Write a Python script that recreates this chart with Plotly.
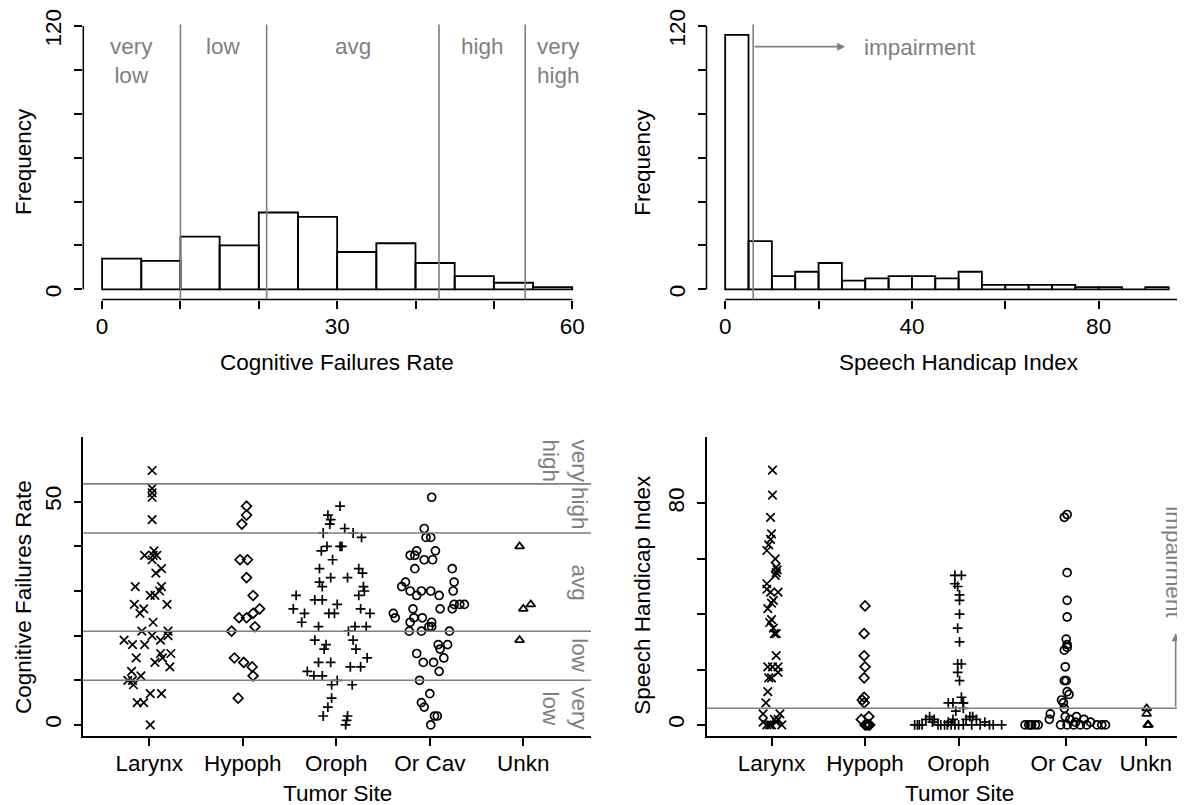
import plotly.graph_objects as go

# ---------------- data ----------------
CFR_BIN_EDGES = [0, 5, 10, 15, 20, 25, 30, 35, 40, 45, 50, 55, 60]
CFR_COUNTS = [14, 13, 24, 20, 35, 33, 17, 21, 12, 6, 3, 1]

SHI_BIN_EDGES = [0, 5, 10, 15, 20, 25, 30, 35, 40, 45, 50, 55, 60, 65, 70, 75, 80, 85, 90, 95]
SHI_COUNTS = [116, 22, 6, 8, 12, 4, 5, 6, 6, 5, 8, 2, 2, 2, 2, 1, 1, 0, 1]

CFR_CUTS = [10, 21, 43, 54]
CFR_BAND_LABELS = ["very<br>low", "low", "avg", "high", "very<br>high"]
SHI_CUT = 6
SHI_LABEL = "impairment"

SITES = ["Larynx", "Hypoph", "Oroph", "Or Cav", "Unkn"]
CFR_SITE_POS = [1, 2, 3, 4, 5]
SHI_SITE_POS = [1, 2, 3, 4.15, 5]

# Cognitive failures rate by tumour site (value, horizontal jitter)
CFR_LARYNX = [57, 53, 52, 51, 46, 39, 38, 38, 38, 37, 35, 34, 31, 31, 30, 29, 29, 27, 27, 26,
              25, 23, 21, 21, 19, 20, 19, 18, 18, 20, 16, 16, 15, 14, 15, 13, 12, 11, 10, 9,
              10, 7, 7, 5, 5, 0]
CFR_LARYNX_JIT = [0.03, 0.03, 0.03, 0.03, 0.03, 0.05, -0.05, 0.04, 0.08, 0.03, 0.13, 0.07, -0.15,
                  0.13, 0.11, 0.01, 0.06, -0.16, 0.19, -0.06, -0.10, 0.04, -0.08, 0.20, -0.27,
                  0.03, 0.12, -0.18, -0.05, 0.20, 0.12, 0.23, -0.14, 0.06, 0.14, 0.22, -0.19,
                  -0.09, -0.23, -0.17, -0.18, 0.01, 0.13, -0.13, -0.06, 0.01]
CFR_HYPOPH = [49, 47, 45, 37, 37, 33, 29, 26, 25, 24, 24, 22, 21, 15, 14, 13, 11, 6]
CFR_HYPOPH_JIT = [0.04, 0.04, -0.01, -0.03, 0.05, 0.04, 0.11, 0.18, 0.11, -0.04, 0.04, 0.13,
                  -0.12, -0.09, 0.01, 0.10, 0.11, -0.05]
CFR_OROPH = [49, 47, 46, 45, 44, 43, 43, 42, 40, 39, 40, 40, 37, 35, 35, 34, 33, 33, 32, 31,
             31, 29, 28, 28, 27, 29, 30, 26, 25, 25, 25, 26, 25, 23, 22, 21, 22, 22, 19, 18,
             17, 19, 17, 14, 14, 13, 13, 15, 12, 11, 11, 10, 9, 9, 6, 4, 2, 2, 1, 0]
CFR_OROPH_JIT = [0.04, -0.09, -0.06, -0.07, 0.09, -0.14, 0.18, 0.27, -0.10, -0.16, 0.06, 0.04,
                 -0.04, -0.18, 0.24, 0.28, -0.06, 0.12, -0.18, -0.15, 0.29, -0.43, -0.23, -0.15,
                 0.01, 0.24, 0.30, -0.46, -0.34, -0.08, -0.02, 0.26, 0.36, -0.37, -0.19, 0.13,
                 0.20, 0.32, -0.23, -0.11, -0.13, 0.18, 0.21, -0.19, -0.06, 0.15, 0.26, 0.33,
                 -0.31, -0.24, -0.15, 0.01, -0.05, 0.17, -0.05, -0.09, -0.14, 0.12, 0.11, 0.10]
CFR_ORCAV = [51, 44, 42, 42, 39, 39, 38, 38, 37, 37, 35, 35, 32, 32, 31, 30, 30, 30, 30, 29,
             29, 27, 27, 27, 26, 26, 26, 25, 24, 24, 24, 23, 23, 22, 22, 21, 21, 21, 18, 18,
             17, 16, 15, 14, 14, 12, 10, 7, 5, 4, 2, 2, 0]
CFR_ORCAV_JIT = [0.02, -0.06, -0.04, 0.01, -0.14, 0.06, -0.21, -0.16, -0.06, 0.03, -0.16, 0.24,
                 -0.26, 0.26, -0.30, -0.21, -0.09, 0.01, 0.25, 0.10, -0.14, 0.26, 0.32, 0.37,
                 0.24, -0.18, 0.11, -0.39, -0.37, -0.17, -0.08, -0.21, 0.02, -0.01, 0.02, -0.22,
                 -0.09, 0.21, 0.09, 0.19, 0.11, -0.14, 0.15, -0.07, 0.04, 0.10, -0.11, 0.00,
                 -0.09, -0.06, 0.05, 0.08, 0.01]
CFR_UNKN = [40, 27, 26, 19]
CFR_UNKN_JIT = [-0.04, 0.08, 0.00, -0.04]

# Speech handicap index by tumour site (value, horizontal spread)
SHI_LARYNX = [92, 83, 75, 69, 67, 65, 63, 60, 57, 56, 55, 54, 51, 49, 48, 48, 45, 44, 42, 38,
              37, 35, 33, 33, 25, 21, 21, 21, 19, 17, 17, 12, 8, 4, 4, 2, 1, 0, 0, 0, 1, 2, 0]
SHI_LARYNX_JIT = [0.01, 0.01, -0.01, 0.00, -0.01, -0.03, -0.05, 0.04, 0.05, 0.06, 0.05, 0.04,
                  -0.05, -0.05, -0.01, 0.07, 0.02, 0.00, -0.04, 0.00, -0.02, 0.02, 0.03, 0.05,
                  0.05, -0.04, 0.01, 0.07, 0.07, -0.03, 0.00, -0.04, -0.06, -0.09, 0.09, 0.07,
                  -0.09, -0.05, 0.00, 0.11, 0.05, 0.03, -0.02]
SHI_HYPOPH = [43, 33, 25, 21, 17, 10, 9, 8, 2, 3, 0, 0, 0, 0]
SHI_HYPOPH_JIT = [0.00, -0.01, -0.01, 0.00, -0.01, -0.01, -0.03, -0.01, -0.04, 0.04, 0.02, 0.04,
                  0.00, 0.05]
SHI_OROPH = [54, 54, 51, 50, 47, 45, 40, 35, 30, 22, 22, 19, 16, 8, 8, 8, 10, 8, 5, 6,
             0, 0, 2, 3, 1, 0, 2, 0, 0, 1, 0, 0, 2, 0, 2, 3, 3, 2, 0, 1, 0, 0, 0, 0, 0,
             0, 0, 0]
SHI_OROPH_JIT = [-0.04, 0.03, -0.04, -0.01, 0.01, 0.01, 0.01, -0.01, 0.01, -0.01, 0.03, -0.01,
                 0.01, -0.11, -0.06, 0.05, 0.03, 0.05, -0.03, 0.05,
                 -0.47, -0.42, -0.35, -0.31, -0.28, -0.22, -0.26, -0.19, -0.15, -0.11, -0.08,
                 -0.04, -0.06, 0.05, 0.08, 0.12, 0.15, 0.19, 0.23, 0.28, 0.33, 0.37, 0.46,
                 -0.44, -0.39, -0.12, 0.00, 0.14]
SHI_ORCAV = [75, 76, 55, 45, 39, 31, 29, 27, 28, 21, 16, 16, 12, 11, 9, 8, 6, 4, 2, 3,
             0, 0, 0, 0, 0, 0, 0, 0, 2, 0, 3, 0, 2, 0, 1, 0, 0, 0, 1]
SHI_ORCAV_JIT = [-0.02, 0.01, 0.01, 0.01, 0.01, 0.00, 0.01, -0.02, 0.01, -0.01, -0.02, 0.00,
                 0.01, 0.03, -0.05, -0.03, -0.02, -0.17, -0.18, -0.01,
                 -0.44, -0.40, -0.37, -0.33, -0.30, -0.38, -0.06, 0.01, 0.04, 0.08, 0.11, 0.15,
                 0.19, 0.22, 0.26, 0.33, 0.38, 0.42, 0.10]
SHI_UNKN = [6, 4, 0, 0]
SHI_UNKN_JIT = [0.01, 0.01, 0.02, 0.03]

# ---------------- styling / layout ----------------
FONT = "Liberation Sans, Arial, Helvetica, sans-serif"
FS = 22.5
GRAY = "#7f7f7f"
SYMBOLS = {"Larynx": ("x-thin", 8.5), "Hypoph": ("diamond-open", 7.5), "Oroph": ("cross-thin", 7),
           "Or Cav": ("circle-open", 8), "Unkn": ("triangle-up-open", 8)}

# the page body has an 8px margin: the figure is sized to fit the window exactly
OFF = 8
W, H = 1185 - OFF, 805 - OFF


def px_x(v):
    return (v - OFF) / W


def px_y(v):
    return 1 - (v - OFF) / H


XL = [px_x(83.3), px_x(591)]
XR = [px_x(706.5), 1.0]
YT = [px_y(299.5), px_y(24.6)]
YB = [px_y(736), px_y(437)]

TL_X, TL_Y = [-2.4, 62.4], [-4.64, 120.64]
TR_X, TR_Y = [-4, 98.5], [-4.64, 120.64]
BL_X, BL_Y = [0.294, 5.724], [-2.48, 64.5]
BR_X, BR_Y = [0.305, 5.42], [-4, 104]
TR_FULL_CENTER = 50
BR_FULL_CENTER = 3.01

fig = go.Figure()


def hist(edges, counts, xa, ya):
    centers = [(edges[i] + edges[i + 1]) / 2 for i in range(len(counts))]
    widths = [edges[i + 1] - edges[i] for i in range(len(counts))]
    fig.add_trace(go.Bar(x=centers, y=counts, width=widths, xaxis=xa, yaxis=ya,
                         marker=dict(color="rgba(255,255,255,0)", line=dict(color="black", width=1.8)),
                         showlegend=False, hoverinfo="skip"))


hist(CFR_BIN_EDGES, CFR_COUNTS, "x", "y")
hist(SHI_BIN_EDGES, SHI_COUNTS, "x2", "y2")

cfr_groups = [(CFR_LARYNX, CFR_LARYNX_JIT), (CFR_HYPOPH, CFR_HYPOPH_JIT), (CFR_OROPH, CFR_OROPH_JIT),
              (CFR_ORCAV, CFR_ORCAV_JIT), (CFR_UNKN, CFR_UNKN_JIT)]
shi_groups = [(SHI_LARYNX, SHI_LARYNX_JIT), (SHI_HYPOPH, SHI_HYPOPH_JIT), (SHI_OROPH, SHI_OROPH_JIT),
              (SHI_ORCAV, SHI_ORCAV_JIT), (SHI_UNKN, SHI_UNKN_JIT)]

for site, pos, (vals, jit) in zip(SITES, CFR_SITE_POS, cfr_groups):
    sym, size = SYMBOLS[site]
    fig.add_trace(go.Scatter(x=[pos + j for j in jit], y=vals, mode="markers", xaxis="x3", yaxis="y3",
                             marker=dict(symbol=sym, size=size, color="black",
                                         line=dict(color="black", width=1.7)),
                             showlegend=False, cliponaxis=False, name=site))
for site, pos, (vals, jit) in zip(SITES, SHI_SITE_POS, shi_groups):
    sym, size = SYMBOLS[site]
    fig.add_trace(go.Scatter(x=[pos + j for j in jit], y=vals, mode="markers", xaxis="x4", yaxis="y4",
                             marker=dict(symbol=sym, size=size, color="black",
                                         line=dict(color="black", width=1.7)),
                             showlegend=False, cliponaxis=False, name=site))

shapes = []
# R-style axis lines for the histograms (span first to last tick only)
shapes.append(dict(type="line", xref="x", yref="y domain", x0=0, x1=60, y0=0, y1=0,
                   line=dict(color="black", width=1.5)))
shapes.append(dict(type="line", xref="x domain", yref="y", x0=0, x1=0, y0=0, y1=120,
                   line=dict(color="black", width=1.5)))
shapes.append(dict(type="line", xref="x2", yref="y2 domain", x0=0, x1=100, y0=0, y1=0,
                   line=dict(color="black", width=1.5)))
shapes.append(dict(type="line", xref="x2 domain", yref="y2", x0=0, x1=0, y0=0, y1=120,
                   line=dict(color="black", width=1.5)))
# cut-off reference lines
for c in CFR_CUTS:
    shapes.append(dict(type="line", xref="x", yref="y domain", x0=c, x1=c, y0=0, y1=1,
                       line=dict(color=GRAY, width=1.6)))
    shapes.append(dict(type="line", xref="x3 domain", yref="y3", x0=0, x1=1, y0=c, y1=c,
                       line=dict(color=GRAY, width=1.6)))
shapes.append(dict(type="line", xref="x2", yref="y2 domain", x0=SHI_CUT, x1=SHI_CUT, y0=0, y1=1,
                   line=dict(color=GRAY, width=1.6)))
shapes.append(dict(type="line", xref="x4 domain", yref="y4", x0=0, x1=1, y0=SHI_CUT, y1=SHI_CUT,
                   line=dict(color=GRAY, width=1.6)))

ann = []
tfont = dict(family=FONT, size=FS, color="black")
gfont = dict(family=FONT, size=FS, color=GRAY)

# band labels on the CFR histogram
bounds = [TL_X[0]] + CFR_CUTS + [TL_X[1]]
for i, lab in enumerate(CFR_BAND_LABELS):
    ann.append(dict(xref="x", yref="y", x=(bounds[i] + bounds[i + 1]) / 2, y=117.2, text=lab,
                    showarrow=False, xanchor="center", yanchor="top", font=gfont))
# band labels on the CFR scatter (rotated)
bounds = [BL_Y[0]] + CFR_CUTS + [BL_Y[1]]
for i, lab in enumerate(CFR_BAND_LABELS):
    ann.append(dict(xref="x3 domain", yref="y3", x=1, y=(bounds[i] + bounds[i + 1]) / 2, text=lab,
                    showarrow=False, xanchor="right", yanchor="middle", textangle=90,
                    xshift=3, font=gfont))
# impairment labels and arrows
ann.append(dict(xref="x2", yref="y2", x=25.7, y=110.6, ax=SHI_CUT, ay=110.6, axref="x2", ayref="y2",
                text="", showarrow=True, arrowhead=2, arrowsize=1, arrowwidth=1.6, arrowcolor=GRAY))
ann.append(dict(xref="x2", yref="y2", x=29.3, y=110.4, text=SHI_LABEL, showarrow=False,
                xanchor="left", yanchor="middle", font=gfont))
ann.append(dict(xref="x4", yref="y4", x=5.32, y=33.1, ax=5.32, ay=SHI_CUT, axref="x4", ayref="y4",
                text="", showarrow=True, arrowhead=2, arrowsize=1, arrowwidth=1.6, arrowcolor=GRAY))
ann.append(dict(xref="x4", yref="y4", x=5.30, y=58.8, text=SHI_LABEL, showarrow=False,
                xanchor="center", yanchor="middle", textangle=90, font=gfont))

# axis titles
ann.append(dict(xref="x domain", yref="paper", x=0.5, y=px_y(362), text="Cognitive Failures Rate",
                showarrow=False, yanchor="middle", font=tfont))
ann.append(dict(xref="x2", yref="paper", x=TR_FULL_CENTER, y=px_y(362), text="Speech Handicap Index",
                showarrow=False, yanchor="middle", font=tfont))
ann.append(dict(xref="x3 domain", yref="paper", x=0.5, y=px_y(793), text="Tumor Site",
                showarrow=False, yanchor="middle", font=tfont))
ann.append(dict(xref="x4", yref="paper", x=BR_FULL_CENTER, y=px_y(793), text="Tumor Site",
                showarrow=False, yanchor="middle", font=tfont))
for xp, yref, yv, txt in [(px_x(23), "y domain", 0.5, "Frequency"),
                          (px_x(641.7), "y2 domain", 0.5, "Frequency"),
                          (px_x(23), "paper", px_y(597), "Cognitive Failures Rate"),
                          (px_x(641.7), "paper", px_y(595), "Speech Handicap Index")]:
    ann.append(dict(xref="paper", yref=yref, x=xp, y=yv, text=txt, showarrow=False, textangle=-90,
                    xanchor="center", yanchor="middle", font=tfont))

axis_common = dict(showgrid=False, zeroline=False, ticks="outside", ticklen=8, tickwidth=1.5,
                   tickcolor="black", tickfont=dict(family=FONT, size=FS, color="black"),
                   linecolor="black", linewidth=1.5, fixedrange=True, automargin=False,
                   ticklabeloverflow="allow")
xcommon = dict(axis_common, ticklabelstandoff=-2)
ycommon = dict(axis_common, ticklabelstandoff=4, tickangle=-90)


def ticktext(vals, shown):
    return [str(v) if v in shown else "" for v in vals]


HIST_Y_TICKS = [0, 20, 40, 60, 80, 100, 120]
CFR_X_TICKS = [0, 10, 20, 30, 40, 50, 60]
SHI_X_TICKS = [0, 20, 40, 60, 80, 100]
CFR_Y_TICKS = [0, 10, 20, 30, 40, 50]
SHI_Y_TICKS = [0, 20, 40, 60, 80]

fig.update_layout(
    width=W, height=H, autosize=False, margin=dict(l=0, r=0, t=0, b=0, pad=0, autoexpand=False),
    paper_bgcolor="white", plot_bgcolor="rgba(0,0,0,0)", showlegend=False,
    font=dict(family=FONT, size=FS, color="black"),
    xaxis=dict(xcommon, domain=XL, range=TL_X, anchor="y", showline=False,
               tickvals=CFR_X_TICKS, ticktext=ticktext(CFR_X_TICKS, [0, 30, 60])),
    yaxis=dict(ycommon, domain=YT, range=TL_Y, anchor="x", showline=False, ticklabelshift=5,
               tickvals=HIST_Y_TICKS, ticktext=ticktext(HIST_Y_TICKS, [0, 120])),
    xaxis2=dict(xcommon, domain=XR, range=TR_X, anchor="y2", showline=False,
                tickvals=SHI_X_TICKS, ticktext=ticktext(SHI_X_TICKS, [0, 40, 80])),
    yaxis2=dict(ycommon, domain=YT, range=TR_Y, anchor="x2", showline=False, ticklabelshift=5,
                tickvals=HIST_Y_TICKS, ticktext=ticktext(HIST_Y_TICKS, [0, 120])),
    xaxis3=dict(xcommon, domain=XL, range=BL_X, anchor="y3", showline=True,
                tickvals=CFR_SITE_POS, ticktext=SITES),
    yaxis3=dict(ycommon, domain=YB, range=BL_Y, anchor="x3", showline=True,
                tickvals=CFR_Y_TICKS, ticktext=ticktext(CFR_Y_TICKS, [0, 50])),
    xaxis4=dict(xcommon, domain=XR, range=BR_X, anchor="y4", showline=True,
                tickvals=SHI_SITE_POS, ticktext=SITES),
    yaxis4=dict(ycommon, domain=YB, range=BR_Y, anchor="x4", showline=True,
                tickvals=SHI_Y_TICKS, ticktext=ticktext(SHI_Y_TICKS, [0, 80])),
    shapes=shapes, annotations=ann,
)

fig.write_html("out.html")
